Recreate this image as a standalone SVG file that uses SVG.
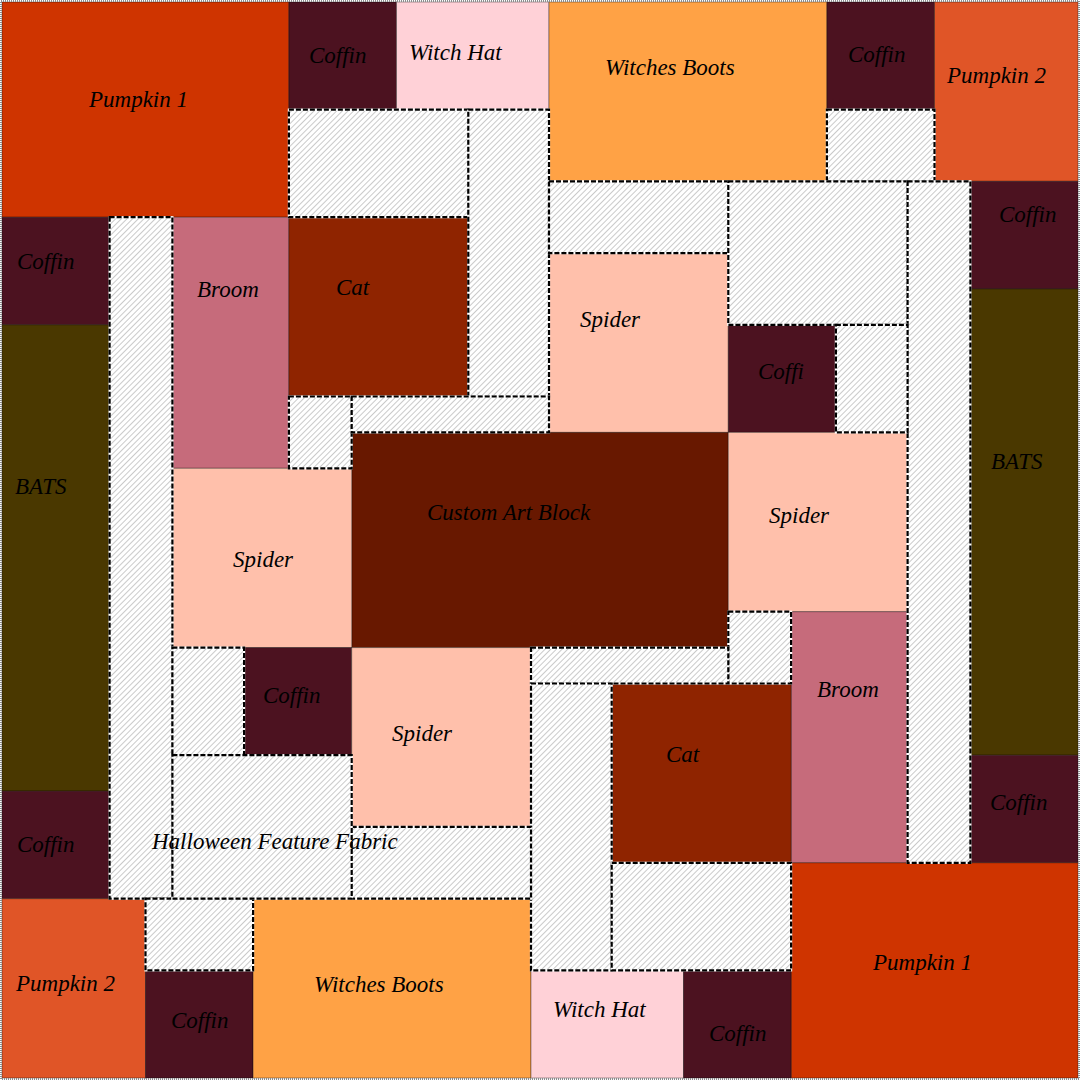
<svg xmlns="http://www.w3.org/2000/svg" width="1080" height="1080" viewBox="0 0 1080 1080">
<defs>
<pattern id="hatch" patternUnits="userSpaceOnUse" width="4" height="4" patternTransform="rotate(45)">
<rect x="0" y="0" width="4" height="4" fill="#ffffff"/>
<line x1="0" y1="0" x2="0" y2="4" stroke="#a6a6a6" stroke-width="1.2"/>
</pattern>
</defs>
<style>
.p{stroke:#000;stroke-opacity:0.35;stroke-width:1}
.pumpkin1{fill:#CF3400}
.pumpkin2{fill:#E05527}
.coffin{fill:#4C1220}
.hat{fill:#FFD1D7}
.boots{fill:#FFA245}
.cat{fill:#8F2400}
.broom{fill:#C66B7B}
.spider{fill:#FFC0AB}
.bats{fill:#4A3800}
.art{fill:#681800}
.h{fill:url(#hatch);stroke:#fff;stroke-width:2.2}
.hd{fill:none;stroke:#000;stroke-width:2.2;stroke-dasharray:5 2}
text{font-family:"Liberation Serif","Times New Roman",serif;font-style:italic;font-size:23px;fill:#000}
</style>
<rect x="0" y="0" width="1080" height="1080" fill="#fff"/>
<g id="pumpkin1-top"><rect class="p pumpkin1" x="2" y="2" width="286.9" height="215.2"/><text x="89" y="107">Pumpkin 1</text></g>
<g id="coffin-1"><rect class="p coffin" x="288.9" y="2" width="107.6" height="107.6"/><text x="309" y="63">Coffin</text></g>
<g id="witchhat-top"><rect class="p hat" x="396.5" y="2" width="152.5" height="107.6"/><text x="409" y="60">Witch Hat</text></g>
<g id="boots-top"><rect class="p boots" x="549" y="2" width="277.9" height="179.3"/><text x="605" y="75">Witches Boots</text></g>
<g id="coffin-2"><rect class="p coffin" x="826.9" y="2" width="107.6" height="107.6"/><text x="848" y="62">Coffin</text></g>
<g id="pumpkin2-top"><rect class="p pumpkin2" x="934.5" y="2" width="143.5" height="179.3"/><text x="947" y="83">Pumpkin 2</text></g>
<g id="coffin-r1"><rect class="p coffin" x="970.4" y="181.3" width="107.6" height="107.6"/><text x="999" y="222">Coffin</text></g>
<g id="bats-r"><rect class="p bats" x="970.4" y="288.9" width="107.6" height="466.3"/><text x="991" y="469">BATS</text></g>
<g id="coffin-r2"><rect class="p coffin" x="970.4" y="755.2" width="107.6" height="107.6"/><text x="990" y="810">Coffin</text></g>
<g id="coffin-l1"><rect class="p coffin" x="2" y="217.2" width="107.6" height="107.6"/><text x="17" y="269">Coffin</text></g>
<g id="bats-l"><rect class="p bats" x="2" y="324.8" width="107.6" height="466.3"/><text x="15" y="494">BATS</text></g>
<g id="coffin-l2"><rect class="p coffin" x="2" y="791.1" width="107.6" height="107.6"/><text x="17" y="852">Coffin</text></g>
<g id="broom-1"><rect class="p broom" x="172.4" y="217.2" width="116.5" height="251.1"/><text x="197" y="297">Broom</text></g>
<g id="cat-1"><rect class="p cat" x="288.9" y="217.2" width="179.4" height="179.3"/><text x="336" y="295">Cat</text></g>
<g id="spider-1"><rect class="p spider" x="549" y="253.1" width="179.3" height="179.3"/><text x="580" y="327">Spider</text></g>
<g id="coffin-3"><rect class="p coffin" x="728.3" y="324.8" width="107.6" height="107.6"/><text x="758" y="379">Coffi</text></g>
<g id="custom-art"><rect class="p art" x="351.7" y="432.4" width="376.6" height="215.2"/><text x="427" y="520">Custom Art Block</text></g>
<g id="spider-l"><rect class="p spider" x="172.4" y="468.3" width="179.3" height="179.3"/><text x="233" y="567">Spider</text></g>
<g id="spider-r"><rect class="p spider" x="728.3" y="432.4" width="179.3" height="179.3"/><text x="769" y="523">Spider</text></g>
<g id="broom-2"><rect class="p broom" x="791.1" y="611.7" width="116.5" height="251.1"/><text x="817" y="697">Broom</text></g>
<g id="coffin-4"><rect class="p coffin" x="244.1" y="647.6" width="107.6" height="107.6"/><text x="263" y="703">Coffin</text></g>
<g id="spider-2"><rect class="p spider" x="351.7" y="647.6" width="179.3" height="179.3"/><text x="392" y="741">Spider</text></g>
<g id="cat-2"><rect class="p cat" x="611.7" y="683.5" width="179.4" height="179.3"/><text x="666" y="762">Cat</text></g>
<g id="pumpkin1-bottom"><rect class="p pumpkin1" x="791.1" y="862.8" width="286.9" height="215.2"/><text x="873" y="970">Pumpkin 1</text></g>
<g id="pumpkin2-bottom"><rect class="p pumpkin2" x="2" y="898.7" width="143.5" height="179.3"/><text x="16" y="991">Pumpkin 2</text></g>
<g id="coffin-5"><rect class="p coffin" x="145.5" y="970.4" width="107.6" height="107.6"/><text x="171" y="1028">Coffin</text></g>
<g id="boots-bottom"><rect class="p boots" x="253.1" y="898.7" width="277.9" height="179.3"/><text x="314" y="992">Witches Boots</text></g>
<g id="witchhat-bottom"><rect class="p hat" x="531" y="970.4" width="152.5" height="107.6"/><text x="553" y="1017">Witch Hat</text></g>
<g id="coffin-6"><rect class="p coffin" x="683.5" y="970.4" width="107.6" height="107.6"/><text x="709" y="1041">Coffin</text></g>
<g id="filler-1"><rect class="h" x="288.9" y="109.6" width="179.4" height="107.6"/><rect class="hd" x="288.9" y="109.6" width="179.4" height="107.6"/></g>
<g id="filler-2"><rect class="h" x="468.3" y="109.6" width="80.7" height="286.9"/><rect class="hd" x="468.3" y="109.6" width="80.7" height="286.9"/></g>
<g id="filler-3"><rect class="h" x="826.9" y="109.6" width="107.6" height="71.7"/><rect class="hd" x="826.9" y="109.6" width="107.6" height="71.7"/></g>
<g id="filler-4"><rect class="h" x="549" y="181.3" width="179.3" height="71.8"/><rect class="hd" x="549" y="181.3" width="179.3" height="71.8"/></g>
<g id="filler-5"><rect class="h" x="728.3" y="181.3" width="179.3" height="143.5"/><rect class="hd" x="728.3" y="181.3" width="179.3" height="143.5"/></g>
<g id="filler-6"><rect class="h" x="907.6" y="181.3" width="62.8" height="681.5"/><rect class="hd" x="907.6" y="181.3" width="62.8" height="681.5"/></g>
<g id="filler-7"><rect class="h" x="109.6" y="217.2" width="62.8" height="681.5"/><rect class="hd" x="109.6" y="217.2" width="62.8" height="681.5"/></g>
<g id="filler-8"><rect class="h" x="288.9" y="396.5" width="62.8" height="71.8"/><rect class="hd" x="288.9" y="396.5" width="62.8" height="71.8"/></g>
<g id="filler-9"><rect class="h" x="351.7" y="396.5" width="197.3" height="35.9"/><rect class="hd" x="351.7" y="396.5" width="197.3" height="35.9"/></g>
<g id="filler-10"><rect class="h" x="835.9" y="324.8" width="71.7" height="107.6"/><rect class="hd" x="835.9" y="324.8" width="71.7" height="107.6"/></g>
<g id="filler-11"><rect class="h" x="728.3" y="611.7" width="62.8" height="71.8"/><rect class="hd" x="728.3" y="611.7" width="62.8" height="71.8"/></g>
<g id="filler-12"><rect class="h" x="172.4" y="647.6" width="71.7" height="107.6"/><rect class="hd" x="172.4" y="647.6" width="71.7" height="107.6"/></g>
<g id="filler-13"><rect class="h" x="531" y="647.6" width="197.3" height="35.9"/><rect class="hd" x="531" y="647.6" width="197.3" height="35.9"/></g>
<g id="filler-14"><rect class="h" x="531" y="683.5" width="80.7" height="286.9"/><rect class="hd" x="531" y="683.5" width="80.7" height="286.9"/></g>
<g id="filler-16"><rect class="h" x="351.7" y="826.9" width="179.3" height="71.8"/><rect class="hd" x="351.7" y="826.9" width="179.3" height="71.8"/></g>
<g id="filler-17"><rect class="h" x="611.7" y="862.8" width="179.4" height="107.6"/><rect class="hd" x="611.7" y="862.8" width="179.4" height="107.6"/></g>
<g id="filler-18"><rect class="h" x="145.5" y="898.7" width="107.6" height="71.7"/><rect class="hd" x="145.5" y="898.7" width="107.6" height="71.7"/></g>
<g id="feature-fabric"><rect class="h" x="172.4" y="755.2" width="179.3" height="143.5"/><rect class="hd" x="172.4" y="755.2" width="179.3" height="143.5"/><text x="152" y="849">Halloween Feature Fabric</text></g>
<rect x="1" y="1" width="1078" height="1078" fill="none" stroke="#8c8c8c" stroke-width="2" stroke-dasharray="1 1"/>
</svg>
